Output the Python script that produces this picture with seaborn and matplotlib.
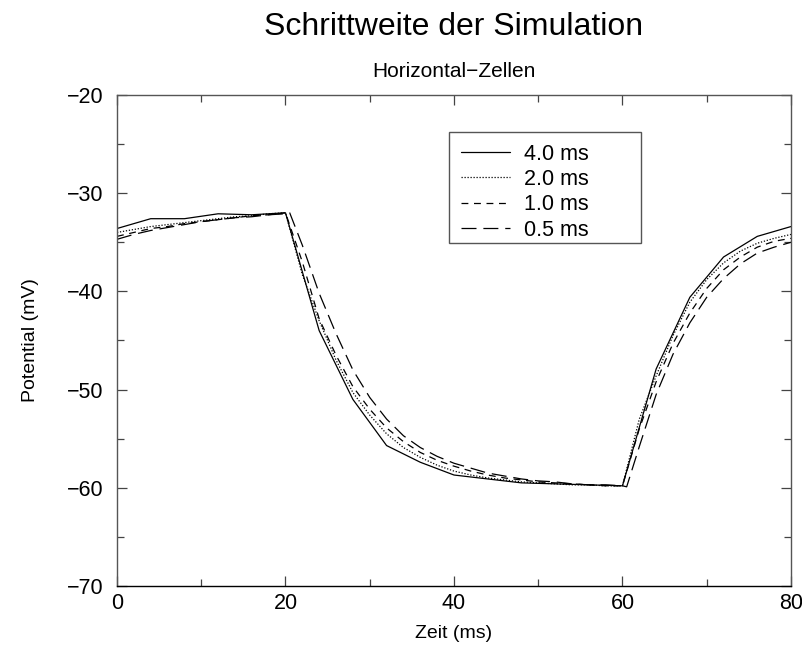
import numpy as np
import pandas as pd
import matplotlib
matplotlib.use("Agg")
import matplotlib.pyplot as plt
from matplotlib.patches import Rectangle
from matplotlib.ticker import MultipleLocator
import seaborn as sns

# ----------------------------------------------------------
# Data (membrane potential in mV)
# ----------------------------------------------------------
t_4ms = [0, 4, 8, 12, 16, 20, 24, 28, 32, 36, 40, 44, 48, 52, 56, 60, 64, 68, 72, 76, 80]
v_4ms = [-33.6, -32.6, -32.6, -32.1, -32.2, -32.0, -44.0, -51.0, -55.7, -57.4, -58.7,
         -59.1, -59.5, -59.6, -59.7, -59.8, -47.9, -40.6, -36.5, -34.4, -33.4]

t_2ms = [0, 2, 4, 6, 8, 10, 12, 14, 16, 18, 20, 22, 24, 26, 28, 30, 32, 34, 36, 38, 40,
         42, 44, 46, 48, 50, 52, 54, 56, 58, 60, 62, 64, 66, 68, 70, 72, 74, 76, 78, 80]
v_2ms = [-34.0, -33.7, -33.4, -33.2, -33.0, -32.8, -32.6, -32.4, -32.3, -32.1, -32.0,
         -38.3, -43.0, -47.0, -50.3, -52.6, -54.5, -55.9, -56.9, -57.7, -58.3,
         -58.7, -59.0, -59.2, -59.4, -59.5, -59.6, -59.7, -59.7, -59.8, -59.8,
         -53.0, -48.6, -44.5, -41.1, -38.8, -37.1, -35.9, -35.1, -34.6, -34.2]

t_1ms = t_2ms
v_1ms = [-34.4, -34.0, -33.6, -33.4, -33.1, -32.9, -32.7, -32.5, -32.3, -32.2, -32.0,
         -37.0, -42.8, -46.5, -49.7, -52.0, -53.9, -55.3, -56.4, -57.2, -57.8,
         -58.3, -58.7, -59.0, -59.2, -59.4, -59.5, -59.6, -59.7, -59.8, -59.8,
         -54.0, -49.2, -45.3, -42.2, -39.7, -37.8, -36.5, -35.5, -34.9, -34.6]

t_05ms = [0, 2, 4, 6, 8, 10, 12, 14, 16, 18, 20, 20.5, 22, 24, 26, 28, 30, 32, 34, 36, 38, 40,
          42, 44, 46, 48, 50, 52, 54, 56, 58, 60, 60.5, 62, 64, 66, 68, 70, 72, 74, 76, 78, 80]
v_05ms = [-34.7, -34.2, -33.8, -33.5, -33.2, -32.9, -32.7, -32.5, -32.4, -32.2, -32.1, -32.0,
          -35.3, -40.2, -44.3, -48.0, -50.8, -53.0, -54.7, -55.9, -56.8, -57.5,
          -58.0, -58.5, -58.8, -59.1, -59.3, -59.4, -59.6, -59.7, -59.7, -59.8, -59.9,
          -55.8, -50.5, -46.4, -43.2, -40.6, -38.7, -37.2, -36.1, -35.5, -35.0]

labels = ["4.0 ms", "2.0 ms", "1.0 ms", "0.5 ms"]
series = [(t_4ms, v_4ms), (t_2ms, v_2ms), (t_1ms, v_1ms), (t_05ms, v_05ms)]
styles = ["-", (0, (1, 1.4)), (0, (5.5, 4.5)), (0, (12, 5.5))]

# ----------------------------------------------------------
# Plot
# ----------------------------------------------------------
sns.set_style("ticks")
plt.rcParams["font.family"] = ["Liberation Sans", "DejaVu Sans"]
plt.rcParams["text.color"] = "black"
plt.rcParams["axes.labelcolor"] = "black"
plt.rcParams["xtick.labelcolor"] = "black"
plt.rcParams["ytick.labelcolor"] = "black"

fig = plt.figure(figsize=(8.03, 6.46), dpi=100)
ax = fig.add_axes([0.1457, 0.0929, 0.8393, 0.7601])

for (t, v), lab, ls in zip(series, labels, styles):
    sns.lineplot(x=t, y=v, ax=ax, color="black", linewidth=0.9,
                 linestyle=ls, label=lab, estimator=None, sort=False)

ax.set_xlim(0, 80)
ax.set_ylim(-70, -20)
ax.xaxis.set_major_locator(MultipleLocator(20))
ax.xaxis.set_minor_locator(MultipleLocator(10))
ax.yaxis.set_major_locator(MultipleLocator(10))
ax.yaxis.set_minor_locator(MultipleLocator(5))
ax.tick_params(which="both", direction="in", top=True, right=True,
               color="#444444", labelsize=15.5)
ax.tick_params(axis="x", pad=5)
ax.tick_params(axis="y", pad=10)
ax.tick_params(which="major", length=7, width=0.9)
ax.tick_params(which="minor", length=5, width=0.9)
for s in ax.spines.values():
    s.set_color("#555555")
    s.set_linewidth(1.0)
ax.spines["bottom"].set_color("black")

ax.set_xlabel("Zeit (ms)", fontsize=14, labelpad=8)
ax.set_ylabel("Potential (mV)", fontsize=14, labelpad=20)

ax.text(0.5, 1.122, "Schrittweite der Simulation", transform=ax.transAxes,
        ha="center", va="baseline", fontsize=23)
ax.text(0.5, 1.036, "Horizontal\u2212Zellen", transform=ax.transAxes,
        ha="center", va="baseline", fontsize=15)

# legend: entries without frame, plus a wider box like the original
leg = ax.legend(loc="upper left", bbox_to_anchor=(0.4926, 0.925), fontsize=15.5,
                frameon=False, handlelength=2.3, handletextpad=0.62,
                labelspacing=0.2, borderpad=0.55, borderaxespad=0)
leg.set_zorder(6)
ax.add_patch(Rectangle((0.4926, 0.6992), 0.2849, 0.2258, transform=ax.transAxes,
                       facecolor="white", edgecolor="#555555", linewidth=1.0,
                       zorder=5.5))

fig.savefig("out.png", dpi=100)
